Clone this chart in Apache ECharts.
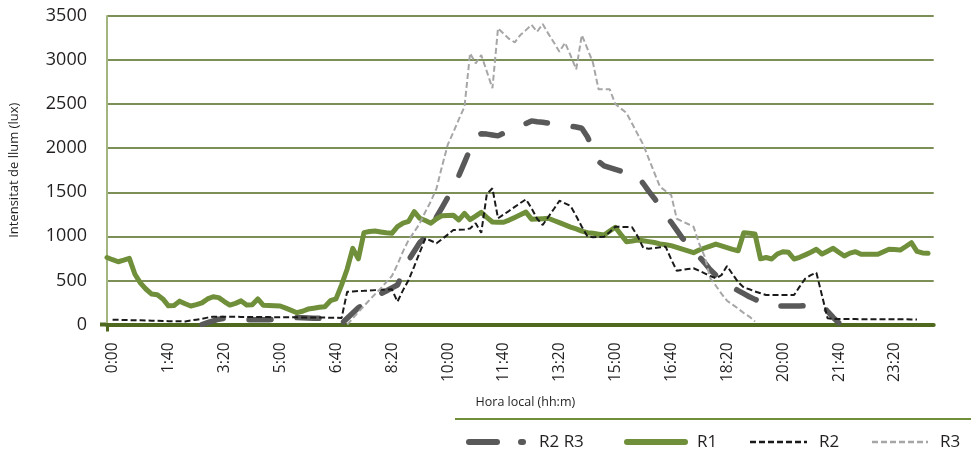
<!DOCTYPE html>
<html>
<head>
<meta charset="utf-8">
<script src="https://cdn.jsdelivr.net/npm/echarts@6/dist/echarts.min.js"></script>
<style>
html,body{margin:0;padding:0;background:#fff;}
#chart{width:971px;height:457px;}
</style>
</head>
<body>
<div id="chart"></div>
<script>
// Category labels: 10-minute steps from 0:00 (one spare slot at the end)
const categories = [];
for (let i = 0; i < 149; i++) {
  const m = i * 10;
  categories.push(Math.floor(m / 60) + ':' + String(m % 60).padStart(2, '0'));
}

const yTicks = { min: 0, max: 3500, interval: 500 };

const seriesNames = ['R2 R3', 'R1', 'R2', 'R3'];

const r1 = [760,735,712,730,750,570,470,400,345,338,
290,212,215,265,235,210,225,245,290,315,
305,260,220,240,268,220,225,290,218,215,
212,210,185,160,134,150,175,185,195,202,
270,290,450,630,864,745,1042,1055,1060,1050,
1040,1035,1110,1150,1170,1280,1205,1180,1150,1200,
1235,1237,1239,1186,1260,1190,1230,1273,1215,1163,
1161,1160,1185,1215,1245,1275,1195,1198,1201,1205,
1180,1155,1130,1105,1085,1060,1042,1035,1025,1015,
1060,1103,1020,940,948,958,950,940,930,915,
905,895,876,855,835,815,845,868,890,913,
893,873,853,837,1042,1035,1028,745,760,743,
800,826,819,743,762,790,820,853,800,832,
864,820,777,810,826,796,796,796,796,825,
853,850,845,885,928,830,812,808,null];

const r2 = [null,55,53,52,50,48,47,45,43,42,
40,38,37,36,35,45,55,65,78,89,
88,88,87,87,86,86,85,85,84,84,
83,83,82,82,81,80,80,79,78,78,
77,76,75,372,375,379,382,386,390,393,
397,399,259,390,505,660,820,978,950,921,
970,1020,1072,1075,1078,1090,1150,1040,1480,1545,
1205,1248,1290,1335,1378,1420,1320,1200,1129,1220,
1310,1404,1375,1344,1230,1110,1000,990,993,996,
1050,1110,1108,1106,1104,1000,870,860,868,876,
883,740,610,620,630,638,610,580,550,525,
560,664,570,480,420,400,375,355,335,335,
335,335,335,335,430,520,560,588,330,70,
62,62,61,61,61,60,60,60,60,60,
60,59,59,59,58,58,null,null,null];

const r2r3 = [null,null,null,null,null,null,null,null,null,null,
null,null,null,null,null,null,null,0,20,40,
60,70,66,62,58,55,55,55,55,55,
62,68,74,80,78,76,74,72,70,55,
40,25,10,70,130,190,230,270,310,350,
380,415,448,590,730,830,930,990,1110,1220,
1330,1440,1570,1690,1840,1990,2130,2165,2160,2150,
2140,2170,2200,2230,2255,2280,2310,2300,2295,2285,
2275,2265,2258,2250,2240,2226,2130,1990,1850,1800,
1780,1760,1740,1720,1700,1680,1600,1510,1430,1340,
1240,1160,1070,980,910,840,770,700,620,560,
510,460,420,385,350,315,285,260,235,210,
210,210,210,210,210,213,216,218,221,150,
80,20,null,null,null,null,null,null,null,null,
null,null,null,null,null,null,null,null,null];

const r3 = [null,null,null,null,null,null,null,null,null,null,
null,null,null,null,null,null,null,null,null,null,
null,null,null,null,null,null,null,null,null,null,
null,null,null,null,null,null,null,null,null,null,
null,null,null,0,70,140,210,278,345,410,
480,550,680,830,960,1050,1148,1280,1400,1545,
1800,2040,2180,2330,2470,3077,2963,3057,2870,2680,
3360,3300,3240,3201,3284,3340,3400,3322,3409,3300,
3200,3095,3197,3050,2895,3284,3130,2970,2668,2668,
2668,2502,2450,2400,2280,2160,2040,1880,1720,1563,
1515,1469,1200,1170,1140,1110,920,770,524,440,
350,270,225,180,130,90,35,null,null,null,
null,null,null,null,null,null,null,null,null,null,
null,null,null,null,null,null,null,null,null,null,
null,null,null,null,null,null,null,null,null];

const FONT = '"Open Sans", "Noto Sans", sans-serif';
const TXT = '#231f20';
const C_R2R3 = '#595959', C_R1 = '#6f8f3a', C_R2 = '#1a1a1a', C_R3 = '#a6a6a6';

const chart = echarts.init(document.getElementById('chart'), null, { renderer: 'canvas' });

const LY = 442;
const legendGraphics = [
  { type: 'line', shape: { x1: 455, y1: 419, x2: 971, y2: 419 }, style: { stroke: C_R1, lineWidth: 2 } },
  // R2 R3
  { type: 'line', shape: { x1: 469, y1: LY, x2: 497, y2: LY }, style: { stroke: C_R2R3, lineWidth: 6, lineCap: 'round' } },
  { type: 'line', shape: { x1: 521, y1: LY, x2: 523, y2: LY }, style: { stroke: C_R2R3, lineWidth: 6, lineCap: 'round' } },
  { type: 'text', x: 539, y: LY, style: { text: seriesNames[0], font: '17px ' + FONT, fill: TXT, verticalAlign: 'middle', align: 'left' } },
  // R1
  { type: 'line', shape: { x1: 627, y1: LY, x2: 685, y2: LY }, style: { stroke: C_R1, lineWidth: 6, lineCap: 'round' } },
  { type: 'text', x: 697, y: LY, style: { text: seriesNames[1], font: '17px ' + FONT, fill: TXT, verticalAlign: 'middle', align: 'left' } },
  // R2
  { type: 'line', shape: { x1: 750, y1: LY, x2: 807, y2: LY }, style: { stroke: C_R2, lineWidth: 2.5, lineDash: [6, 3] } },
  { type: 'text', x: 819, y: LY, style: { text: seriesNames[2], font: '17px ' + FONT, fill: TXT, verticalAlign: 'middle', align: 'left' } },
  // R3
  { type: 'line', shape: { x1: 872, y1: LY, x2: 928, y2: LY }, style: { stroke: C_R3, lineWidth: 2.5, lineDash: [6, 3] } },
  { type: 'text', x: 940, y: LY, style: { text: seriesNames[3], font: '17px ' + FONT, fill: TXT, verticalAlign: 'middle', align: 'left' } },
  // small extension of the zero line to the left of the value axis
  { type: 'line', shape: { x1: 100, y1: 324.5, x2: 108, y2: 324.5 }, style: { stroke: '#4f6a1f', lineWidth: 4 } }
];

chart.setOption({
  animation: false,
  backgroundColor: '#ffffff',
  grid: { left: 107, right: 37.3, top: 16, bottom: 132.5, containLabel: false },
  legend: { show: false },
  xAxis: {
    type: 'category',
    data: categories,
    boundaryGap: false,
    name: 'Hora local (hh:m)',
    nameLocation: 'middle',
    nameGap: 71,
    nameTextStyle: { fontFamily: FONT, fontSize: 12.5, color: TXT, padding: [0, 0, 0, 10] },
    axisLine: { show: true, lineStyle: { color: '#4f6a1f', width: 4 } },
    axisTick: { show: true, alignWithLabel: true, interval: function (i) { return i === 0; }, length: 7, lineStyle: { color: '#4f6a1f', width: 3 } },
    axisLabel: {
      interval: 9,
      rotate: 90,
      margin: 18,
      fontFamily: FONT,
      fontSize: 15.5,
      color: TXT,
      verticalAlign: 'top',
      lineHeight: 12
    },
    splitLine: { show: false }
  },
  yAxis: {
    type: 'value',
    min: yTicks.min,
    max: yTicks.max,
    interval: yTicks.interval,
    name: 'Intensitat de llum (lux)',
    nameLocation: 'middle',
    nameGap: 86,
    nameTextStyle: { fontFamily: FONT, fontSize: 13, color: TXT },
    axisLine: { show: true, lineStyle: { color: '#a3b67f', width: 2 } },
    axisTick: { show: false },
    axisLabel: { margin: 20, fontFamily: FONT, fontSize: 18, color: TXT, formatter: function (v) { return String(v); } },
    splitLine: { show: true, lineStyle: { color: '#4f6a1f', width: 1.5 } }
  },
  graphic: legendGraphics,
  series: [
    {
      name: 'R2 R3', type: 'line', data: r2r3, symbol: 'none', showSymbol: false, connectNulls: false,
      lineStyle: { color: C_R2R3, width: 5.5, type: [22, 26], cap: 'round' },
      itemStyle: { color: C_R2R3 }, z: 2
    },
    {
      name: 'R1', type: 'line', data: r1, symbol: 'none', showSymbol: false,
      lineStyle: { color: C_R1, width: 5, cap: 'round', join: 'round' },
      itemStyle: { color: C_R1 }, z: 3
    },
    {
      name: 'R2', type: 'line', data: r2, symbol: 'none', showSymbol: false,
      lineStyle: { color: C_R2, width: 2, type: [6, 3] },
      itemStyle: { color: C_R2 }, z: 4
    },
    {
      name: 'R3', type: 'line', data: r3, symbol: 'none', showSymbol: false,
      lineStyle: { color: C_R3, width: 2, type: [6, 3] },
      itemStyle: { color: C_R3 }, z: 5
    }
  ]
});
</script>
</body>
</html>
